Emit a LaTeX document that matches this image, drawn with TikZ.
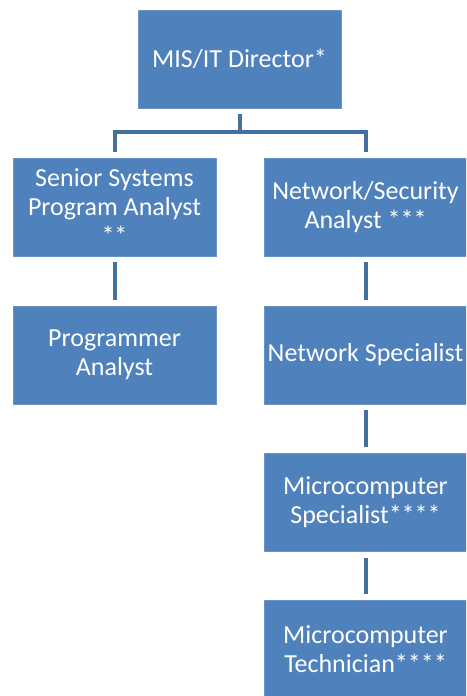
\documentclass[tikz,border=0pt]{standalone}
\usepackage{fontspec}
\setmainfont{Carlito}
\definecolor{boxblue}{HTML}{4F81BD}
\definecolor{lineblue}{HTML}{41719C}
\tikzset{
orgbox/.style={fill=boxblue,draw=boxblue!85!white,line width=0.8pt,text=white,minimum width=203pt,minimum height=98pt,inner sep=1pt,align=center,font=\fontsize{26}{29}\selectfont},
orglink/.style={draw=lineblue,line width=4pt,shorten <=6pt,shorten >=6pt}
}
\begin{document}
\begin{tikzpicture}[x=1pt,y=1pt]
\useasboundingbox (0,0) rectangle (466,696);
\clip (0,0) rectangle (466,696);
\node[orgbox] (dir) at (239.5,637) {MIS/IT Director*};
\node[orgbox] (ssa) at (114.5,489) {Senior Systems\\Program Analyst\\**};
\node[orgbox] (nsa) at (365.5,489) {Network/Security\\Analyst ***};
\node[orgbox] (pa) at (114.5,341) {Programmer\\Analyst};
\node[orgbox] (ns) at (365.5,341) {Network Specialist};
\node[orgbox] (ms) at (365.5,193.5) {Microcomputer\\Specialist****};
\node[orgbox] (mt) at (365.5,46.5) {Microcomputer\\Technician****};

\draw[orglink] (dir.south) -- ++(0,-24) -| (ssa.north);
\draw[orglink] (dir.south) -- ++(0,-24) -| (nsa.north);
\draw[orglink] (ssa.south) -- (pa.north);
\draw[orglink] (nsa.south) -- (ns.north);
\draw[orglink] (ns.south) -- (ms.north);
\draw[orglink] (ms.south) -- (mt.north);
\end{tikzpicture}
\end{document}
